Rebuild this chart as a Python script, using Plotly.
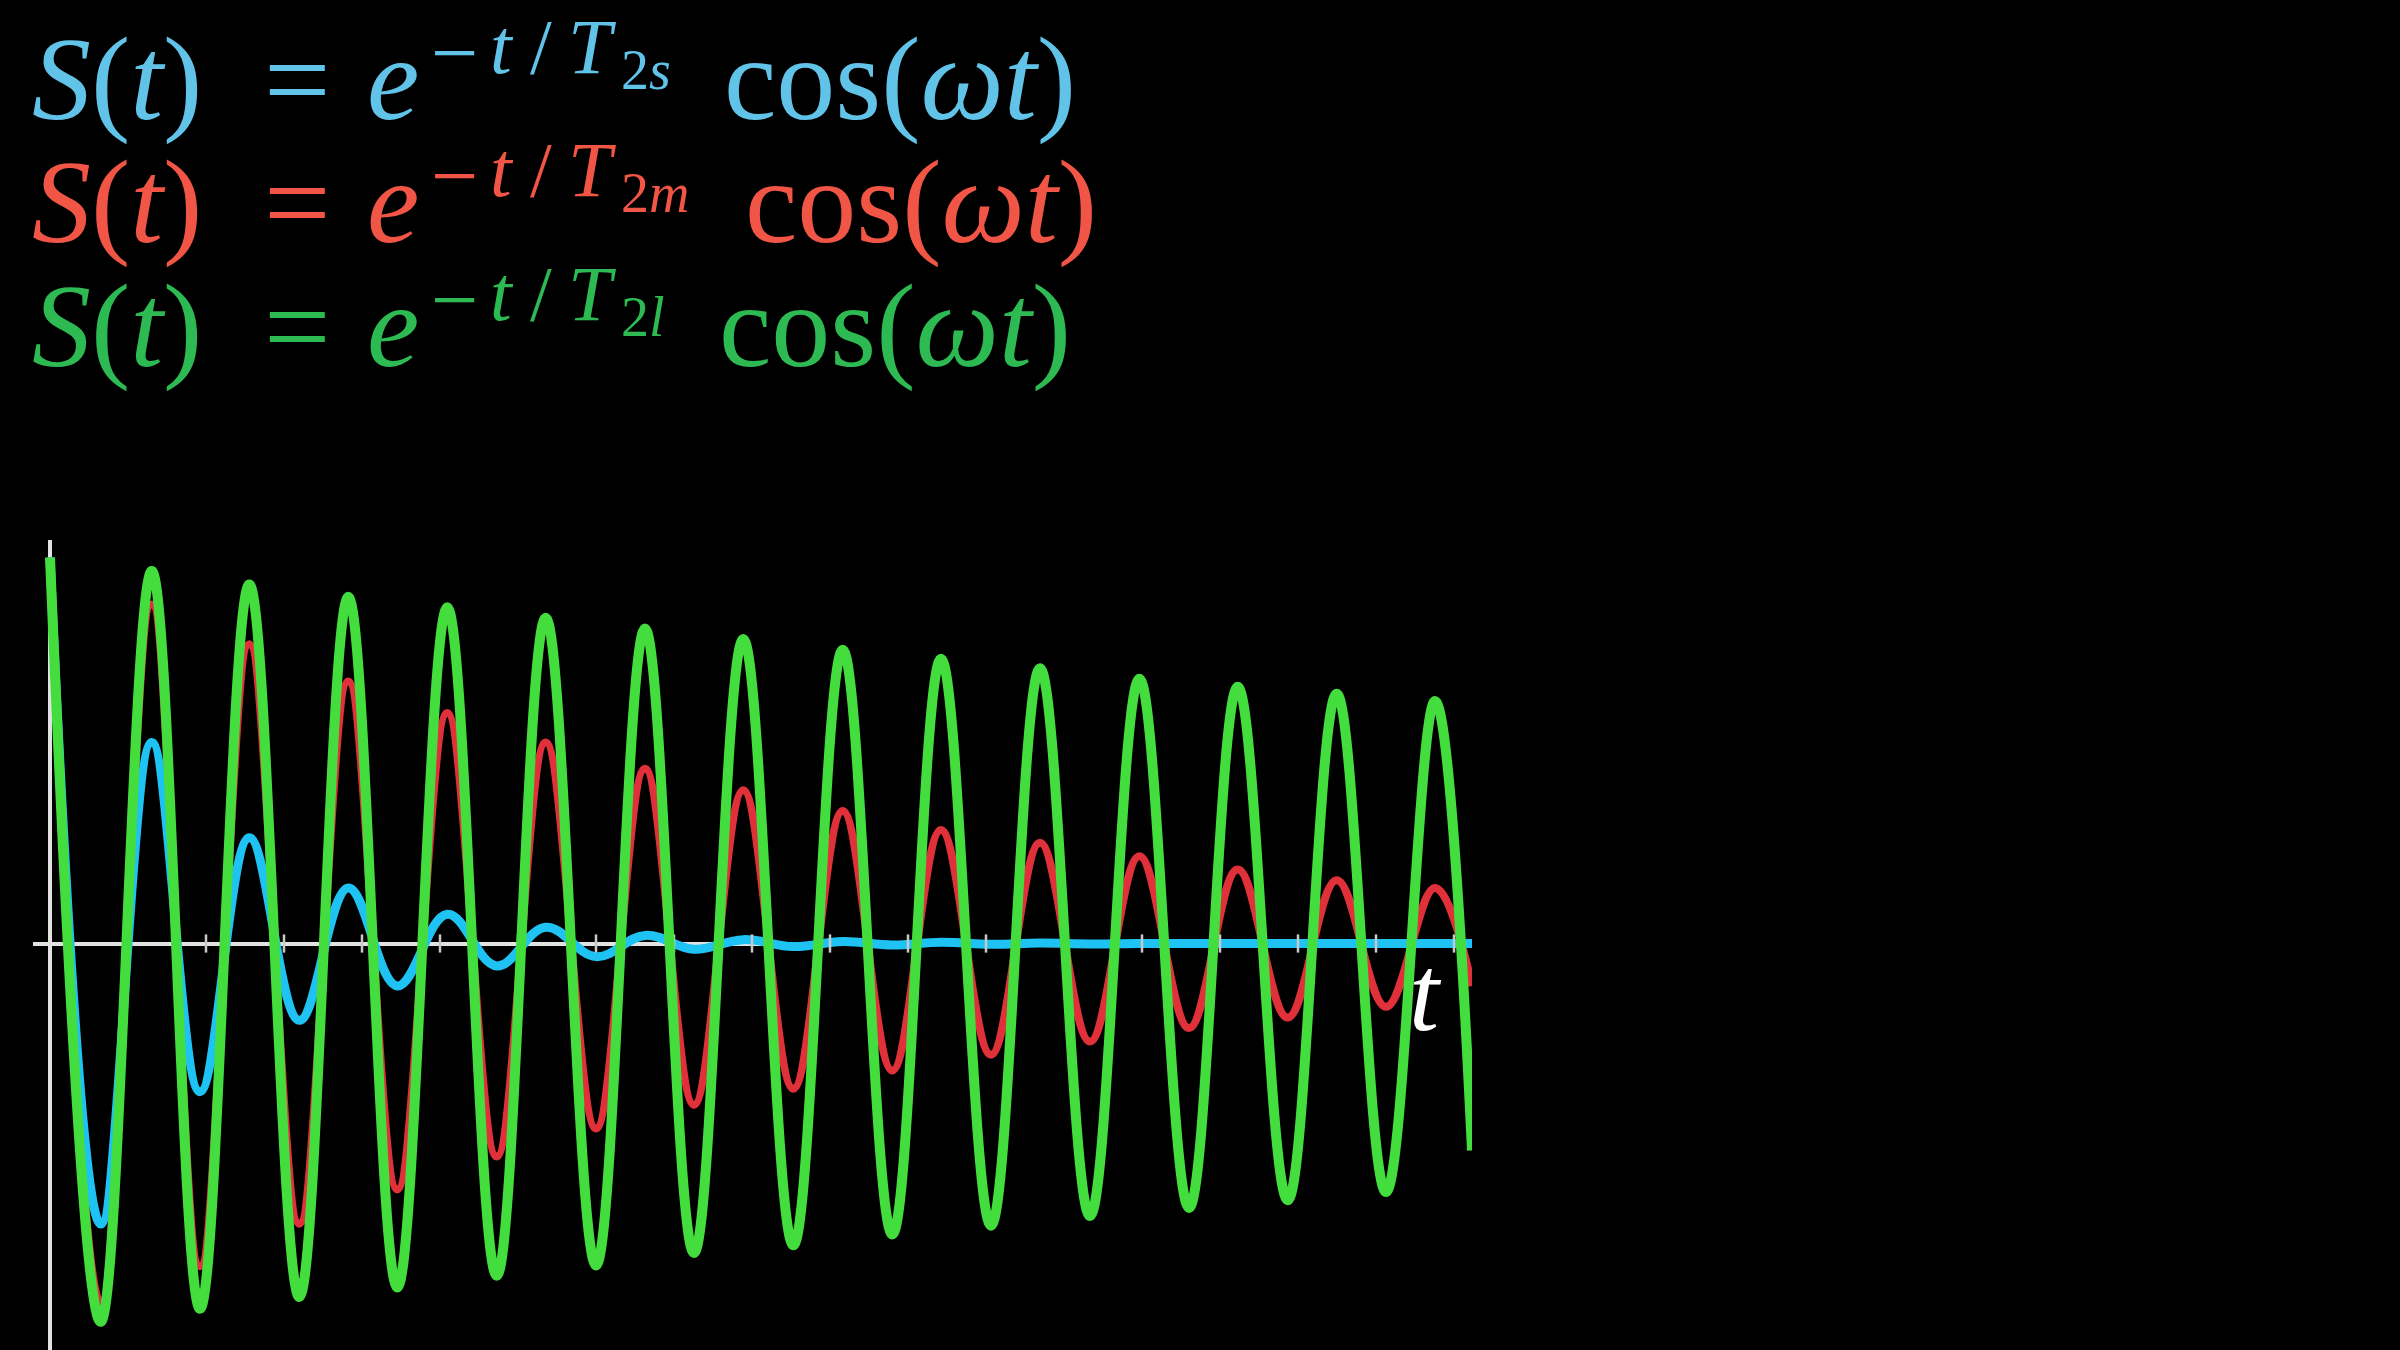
import plotly.graph_objects as go

# ---------------- data ----------------
# t positions of successive extrema (tick spacing = 1 unit); last entry = end of curves
ext_t = [0.0, 0.65, 1.304, 1.923, 2.555, 3.196, 3.824, 4.453, 5.093, 5.727,
         6.355, 7.0, 7.628, 8.256, 8.888, 9.53, 10.163, 10.799, 11.423, 12.064,
         12.692, 13.333, 13.966, 14.603, 15.227, 15.868, 16.496, 17.128, 17.756, 18.231]

green_vals = [1.0, -0.980, 0.965, -0.946, 0.930, -0.916, 0.898, -0.891, 0.871, -0.861,
              0.844, -0.834, 0.816, -0.802, 0.789, -0.782, 0.761, -0.754, 0.738, -0.731,
              0.713, -0.706, 0.686, -0.685, 0.665, -0.665, 0.647, -0.644, 0.628, -0.536]

red_vals = [1.0, -0.933, 0.878, -0.836, 0.775, -0.726, 0.679, -0.637, 0.597, -0.552,
            0.521, -0.479, 0.453, -0.418, 0.397, -0.376, 0.343, -0.329, 0.294, -0.288,
            0.261, -0.254, 0.226, -0.219, 0.192, -0.192, 0.164, -0.164, 0.144, -0.11]

blue_vals = [1.0, -0.727, 0.521, -0.384, 0.274, -0.199, 0.144, -0.110, 0.076, -0.058,
             0.042, -0.034, 0.021, -0.015, 0.010, -0.008, 0.005, -0.004, 0.003, -0.002,
             0.001, -0.001, 0.0, 0.0, 0.0, 0.0, 0.0, 0.0, 0.0, 0.0]

tick_t = list(range(1, 19))

subscripts = ["2<i>s</i>", "2<i>m</i>", "2<i>l</i>"]
axis_label = "<i>t</i>"

# ---------------- styling / layout ----------------
W, H = 2400, 1350
L, R, T, B = 33, 1472, 540, 1350
X0_PX, Y0_PX = 50, 943.5
PX_PER_T, PX_PER_Y = 78, 386
x_range = [(L - X0_PX) / PX_PER_T, (R - X0_PX) / PX_PER_T]
y_range = [(Y0_PX - B) / PX_PER_Y, (Y0_PX - T) / PX_PER_Y]

LINE_BLUE, LINE_RED, LINE_GREEN = "#1EC3F3", "#E0303A", "#44DD3E"
TEXT_BLUE, TEXT_RED, TEXT_GREEN = "#62C3E8", "#F05545", "#2DBA53"
AXIS_COL = "#E2E2E2"
FONT = "Liberation Serif"
SMOOTH = 1.1

fig = go.Figure()
fig.add_trace(go.Scatter(x=ext_t, y=red_vals, mode="lines", hoverinfo="skip",
                         line=dict(color=LINE_RED, width=8, shape="spline", smoothing=SMOOTH)))
fig.add_trace(go.Scatter(x=ext_t, y=blue_vals, mode="lines", hoverinfo="skip",
                         line=dict(color=LINE_BLUE, width=9, shape="spline", smoothing=SMOOTH)))
fig.add_trace(go.Scatter(x=tick_t, y=[0] * len(tick_t), mode="markers", hoverinfo="skip",
                         marker=dict(symbol="line-ns", size=13,
                                     line=dict(color="#C8C8C8", width=2.5))))
fig.add_trace(go.Scatter(x=ext_t, y=green_vals, mode="lines", hoverinfo="skip",
                         line=dict(color=LINE_GREEN, width=10, shape="spline", smoothing=SMOOTH)))

fig.update_layout(width=W, height=H, margin=dict(l=L, r=W - R, t=T, b=0, pad=0),
                  paper_bgcolor="black", plot_bgcolor="black", showlegend=False)
axis_common = dict(showgrid=False, showticklabels=False, ticks="", showline=False,
                   zeroline=True, zerolinecolor=AXIS_COL, zerolinewidth=4, fixedrange=True)
fig.update_xaxes(range=x_range, **axis_common)
fig.update_yaxes(range=y_range, **axis_common)


def px_x(x):
    return (x - L) / (R - L)


def px_y(y):
    return (B - y) / (B - T)


def piece(text, x, baseline, size, color, anchor="center"):
    bottom = baseline + 0.216 * size + 2
    fig.add_annotation(text=text, x=px_x(x), y=px_y(bottom), xref="paper", yref="paper",
                       xanchor=anchor, yanchor="bottom", showarrow=False,
                       font=dict(family=FONT, size=size, color=color))


colors = [TEXT_BLUE, TEXT_RED, TEXT_GREEN]
baselines = [120, 243, 367]
cos_left = [722, 743, 717]
MAIN, SUP, SUB = 118, 78, 56
for i in range(3):
    b, c = baselines[i], colors[i]
    piece("<i>S</i>(<i>t</i>)", 30, b, MAIN, c, anchor="left")
    piece("=", 297, b + 1, 118, c)
    piece("<i>e</i>", 393, b, MAIN, c)
    piece("\u2212", 454, b - 39, 84, c)
    piece("<i>t</i>", 502, b - 47, SUP, c)
    piece("/", 541, b - 47, SUP, c)
    piece("<i>T</i>", 592, b - 47, SUP, c)
    piece(subscripts[i], 619, b - 31, SUB, c, anchor="left")
    piece("cos(<i>\u03c9t</i>)", cos_left[i], b, MAIN, c, anchor="left")

piece(axis_label, 1425, 1030, 108, "white")

fig.write_html(
    "out.html",
    config={"displayModeBar": False},
    post_script="document.body.style.margin='0';document.body.style.background='black';"
                "document.body.style.overflow='hidden';",
)
